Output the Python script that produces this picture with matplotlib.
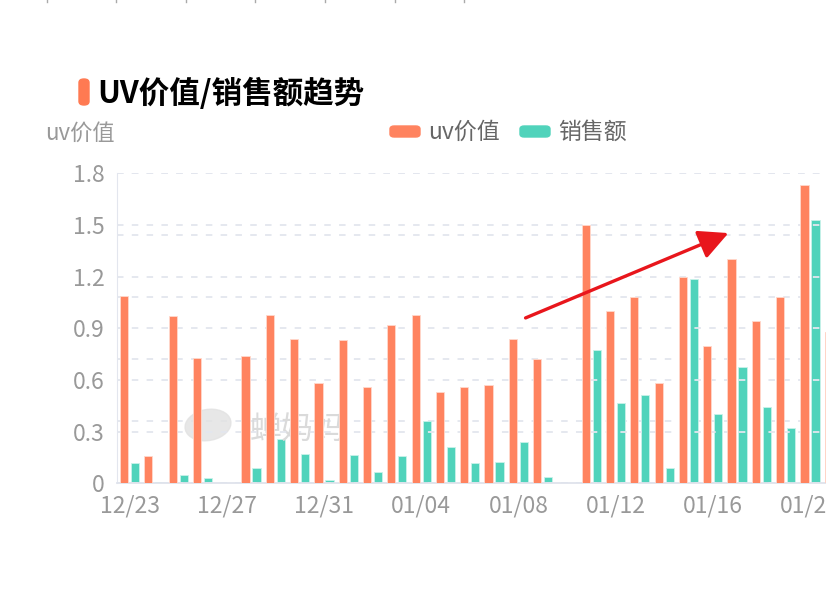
import matplotlib
matplotlib.use("Agg")
import numpy as np
import matplotlib.pyplot as plt
from matplotlib.patches import FancyBboxPatch, FancyArrowPatch, Ellipse
from matplotlib.lines import Line2D

plt.rcParams['font.family'] = ['Noto Sans CJK SC', 'DejaVu Sans']

# dates shown on the x axis (one bar pair per day)
dates = ["12/23", "12/24", "12/25", "12/26", "12/27", "12/28", "12/29", "12/30", "12/31",
         "01/01", "01/02", "01/03", "01/04", "01/05", "01/06", "01/07", "01/08", "01/09",
         "01/10", "01/11", "01/12", "01/13", "01/14", "01/15", "01/16", "01/17", "01/18",
         "01/19", "01/20", "01/21"]

# uv价值 (left axis)
uv_value = [1.09, 0.16, 0.97, 0.73, 0.0, 0.74, 0.98, 0.84, 0.58, 0.83, 0.56, 0.92, 0.98, 0.53,
            0.56, 0.57, 0.84, 0.72, 0.0, 1.50, 1.00, 1.08, 0.58, 1.20, 0.80, 1.30, 0.94, 1.08,
            1.73, 0.88]

# 销售额 (right axis, its labels are cut off by the image edge)
sales = [0.32, 0.02, 0.14, 0.08, 0.0, 0.24, 0.72, 0.47, 0.06, 0.45, 0.18, 0.44, 1.01, 0.58,
         0.32, 0.35, 0.67, 0.10, 0.0, 2.15, 1.30, 1.43, 0.25, 3.29, 1.12, 1.87, 1.23, 0.89,
         4.24, 2.60]

left_ticks = [0, 0.3, 0.6, 0.9, 1.2, 1.5, 1.8]
right_ticks = [0, 1, 2, 3, 4, 5]

orange = "#ff835f"
teal = "#50d3bb"
grid_c = "#e3e6ee"
tick_c = "#999999"

W, H = 826, 598
fig = plt.figure(figsize=(W / 100, H / 100), dpi=100)

n = len(dates)
day_px = 24.3
ax = fig.add_axes([117.4 / W, 114.7 / H, n * day_px / W, 310 / H])
ax2 = ax.twinx()

x = np.arange(n)
ax.bar(x - 0.226, uv_value, width=0.34, color=orange, edgecolor="#ffd9cc", linewidth=0.6, zorder=3)
ax2.bar(x + 0.226, sales, width=0.34, color=teal, edgecolor="#c9f2ea", linewidth=0.6, zorder=3)

ax.set_xlim(-0.5, n - 0.5)
ax.set_ylim(0, 1.8)
ax2.set_ylim(0, 5)
ax.set_yticks(left_ticks)
ax.set_yticklabels(["0" if v == 0 else f"{v:.1f}" for v in left_ticks])
ax2.set_yticks(right_ticks)
ax2.set_yticklabels([])
ax.set_xticks(x[::4])
ax.set_xticklabels(dates[::4])

ax.tick_params(axis="both", length=0, colors=tick_c, labelsize=16.5)
ax.tick_params(axis="y", pad=9)
ax.tick_params(axis="x", pad=8)
ax2.tick_params(length=0)

for a in (ax, ax2):
    a.set_axisbelow(True)
    a.yaxis.grid(True, color=grid_c, linewidth=1.3, linestyle=(0, (3.6, 4.6)))
    for s in a.spines.values():
        s.set_visible(False)
ax.spines["left"].set_visible(True)
ax.spines["left"].set_color(grid_c)
ax.spines["bottom"].set_visible(True)
ax.spines["bottom"].set_color("#dfe3ec")
ax.spines["bottom"].set_linewidth(1.3)
ax.set_zorder(ax2.get_zorder() + 1)
ax.patch.set_visible(False)

# watermark (logo blob + name), drawn beneath the bars
fig.patches.append(Ellipse((208 / W, 1 - 425 / H), 48 / W, 30 / H, angle=35,
                           transform=fig.transFigure, color="#e2e2e2", alpha=0.8, zorder=0))
fig.text(298 / W, 1 - 430 / H, "蝉妈妈", fontsize=23, color="#dadada",
         ha="center", va="center", zorder=0)

# title with orange marker
fig.patches.append(FancyBboxPatch((79 / W, 1 - 105 / H), 10 / W, 26 / H,
                                  boxstyle="round,pad=0,rounding_size=0.006",
                                  transform=fig.transFigure, color="#ff7a52"))
fig.text(97 / W, 1 - 94 / H, "UV价值/销售额趋势", fontsize=22, fontweight="bold",
         color="black", ha="left", va="center")

# y axis name
fig.text(80 / W, 1 - 133 / H, "uv价值", fontsize=16, color=tick_c, ha="center", va="center")

# legend
for x0, col, lab in [(390, orange, "uv价值"), (520, teal, "销售额")]:
    fig.patches.append(FancyBboxPatch((x0 / W, 1 - 137 / H), 30 / W, 11 / H,
                                      boxstyle="round,pad=0,rounding_size=0.005",
                                      transform=fig.transFigure, color=col))
    fig.text((x0 + 38) / W, 1 - 132 / H, lab, fontsize=16.5, color="#666666",
             ha="left", va="center")

# red trend arrow
arrow = FancyArrowPatch((523 / W, 1 - 319 / H), (731 / W, 1 - 232 / H),
                        transform=fig.transFigure, arrowstyle="-|>,head_length=1.2,head_width=0.6",
                        mutation_scale=15, color="#e8161c", linewidth=2.4)
fig.patches.append(arrow)

# tiny marks left from a cut-off element at the top edge
for xm in [47, 116, 186, 255, 325, 395, 464]:
    fig.lines.append(Line2D([xm / W, xm / W], [1, 1 - 2 / H], transform=fig.transFigure,
                            color="#aaaaaa", linewidth=1))

fig.savefig("out.png", dpi=100)
